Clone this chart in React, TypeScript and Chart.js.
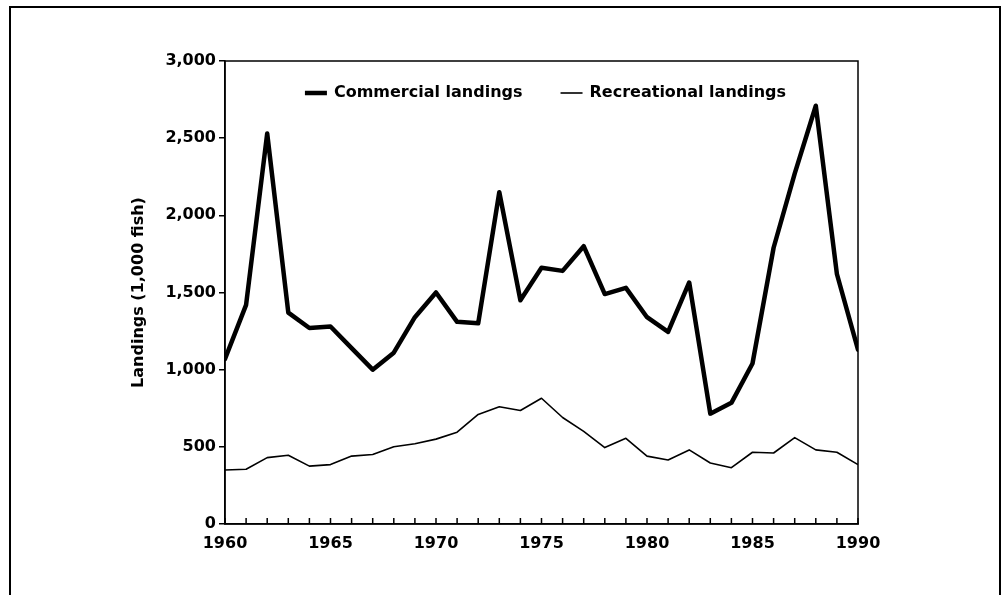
import React, { useEffect, useRef } from "react";
import { Chart, registerables } from "chart.js";

Chart.register(...registerables);

const years = [
  1960, 1961, 1962, 1963, 1964, 1965, 1966, 1967, 1968, 1969,
  1970, 1971, 1972, 1973, 1974, 1975, 1976, 1977, 1978, 1979,
  1980, 1981, 1982, 1983, 1984, 1985, 1986, 1987, 1988, 1989, 1990,
];

const commercial = [
  1070, 1420, 2530, 1370, 1270, 1280, 1140, 1000, 1110, 1340,
  1500, 1310, 1300, 2150, 1450, 1660, 1640, 1800, 1490, 1530,
  1340, 1245, 1565, 715, 785, 1040, 1790, 2270, 2710, 1620, 1130,
];

const recreational = [
  350, 355, 430, 445, 375, 385, 440, 450, 500, 520,
  550, 595, 710, 760, 735, 815, 690, 600, 495, 555,
  440, 415, 480, 395, 365, 465, 460, 560, 480, 465, 385,
];

const seriesLabels = ["Commercial landings", "Recreational landings"];
const yAxisTitle = "Landings (1,000 fish)";
const yMin = 0;
const yMax = 3000;
const yStep = 500;
const xLabelEvery = 5;

const FAMILY = "'DejaVu Sans', 'Liberation Sans', Arial, sans-serif";
const FONT = { family: FAMILY, weight: "bold" as const, size: 16 };

const framePlugin = {
  id: "framePlugin",
  beforeDraw(chart: any) {
    const { ctx, width, height } = chart;
    ctx.save();
    ctx.fillStyle = "#ffffff";
    ctx.fillRect(0, 0, width, height);
    ctx.restore();
  },
  afterDraw(chart: any) {
    const { ctx, chartArea: a, scales } = chart;
    const x = scales.x;
    ctx.save();
    ctx.strokeStyle = "#000";
    ctx.lineWidth = 1.5;
    ctx.strokeRect(a.left, a.top, a.right - a.left, a.bottom - a.top);
    ctx.beginPath();
    x.ticks.forEach((_t: any, i: number) => {
      const px = x.getPixelForTick(i);
      ctx.moveTo(px, a.bottom);
      ctx.lineTo(px, a.bottom - 6);
    });
    ctx.stroke();
    ctx.lineWidth = 2;
    ctx.strokeRect(10, 7, 990, 640);

    // legend inside the plot area
    const sampleW = 22;
    const gapText = 7;
    const gapItem = 38;
    ctx.font = `bold 16px ${FAMILY}`;
    const items = chart.data.datasets.map((ds: any) => ({
      label: ds.label,
      w: ctx.measureText(ds.label).width,
      lw: ds.borderWidth,
      color: ds.borderColor,
    }));
    const total =
      items.reduce((s: number, it: any) => s + sampleW + gapText + it.w, 0) +
      gapItem * (items.length - 1);
    let cx = (a.left + a.right) / 2 + 4 - total / 2;
    const cy = a.top + 32;
    ctx.textBaseline = "middle";
    ctx.textAlign = "left";
    items.forEach((it: any) => {
      ctx.beginPath();
      ctx.strokeStyle = it.color;
      ctx.lineWidth = it.lw;
      ctx.moveTo(cx, cy);
      ctx.lineTo(cx + sampleW, cy);
      ctx.stroke();
      ctx.fillStyle = "#000";
      ctx.fillText(it.label, cx + sampleW + gapText, cy);
      cx += sampleW + gapText + it.w + gapItem;
    });
    ctx.restore();
  },
};

export default function App() {
  const ref = useRef<HTMLCanvasElement | null>(null);

  useEffect(() => {
    document.body.style.margin = "0";
    if (!ref.current) return;
    const chart = new Chart(ref.current, {
      type: "line",
      data: {
        datasets: [
          {
            label: seriesLabels[0],
            data: years.map((y, i) => ({ x: y, y: commercial[i] })),
            borderColor: "#000",
            backgroundColor: "#000",
            borderWidth: 4.5,
            pointRadius: 0,
            tension: 0,
            borderJoinStyle: "round",
            borderCapStyle: "round",
          },
          {
            label: seriesLabels[1],
            data: years.map((y, i) => ({ x: y, y: recreational[i] })),
            borderColor: "#000",
            backgroundColor: "#000",
            borderWidth: 1.6,
            pointRadius: 0,
            tension: 0,
            borderJoinStyle: "round",
          },
        ],
      },
      options: {
        animation: false,
        responsive: false,
        layout: { padding: { left: 0, top: 61, right: 144, bottom: 0 } },
        plugins: {
          tooltip: { enabled: false },
          legend: { display: false },
        },
        scales: {
          x: {
            type: "linear",
            min: years[0],
            max: years[years.length - 1],
            afterFit: (s: any) => {
              s.height = 71;
            },
            border: { display: true, color: "#000", width: 1.5 },
            grid: { drawOnChartArea: false, drawTicks: false },
            ticks: {
              stepSize: 1,
              autoSkip: false,
              maxRotation: 0,
              padding: 10,
              color: "#000",
              font: FONT,
              callback: (v: any) => (Number(v) % xLabelEvery === 0 ? String(v) : ""),
            },
          },
          y: {
            min: yMin,
            max: yMax,
            afterFit: (s: any) => {
              s.width = 225;
            },
            border: { display: true, color: "#000", width: 1.5 },
            grid: { drawOnChartArea: false, drawTicks: true, tickLength: 6, color: "#000", lineWidth: 1.5 },
            ticks: {
              stepSize: yStep,
              padding: 3,
              color: "#000",
              font: FONT,
              callback: (v: any) => Number(v).toLocaleString("en-US"),
            },
            title: {
              display: true,
              text: yAxisTitle,
              color: "#000",
              font: FONT,
              padding: { top: 129, bottom: 0 },
            },
          },
        },
      },
      plugins: [framePlugin],
    });
    return () => chart.destroy();
  }, []);

  return (
    <div style={{ width: 1002, height: 595 }}>
      <canvas ref={ref} width={1002} height={595} style={{ display: "block" }} />
    </div>
  );
}
